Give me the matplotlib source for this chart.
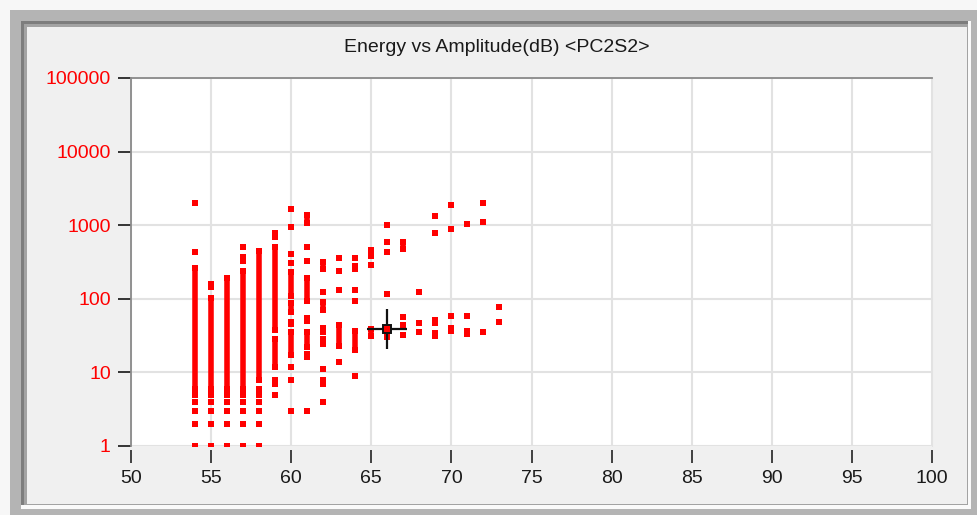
import matplotlib
matplotlib.use("Agg")
import matplotlib.pyplot as plt
from matplotlib.patches import Rectangle

# amplitude (dB) / energy runs: lo == hi means a single hit
run_amp = [54, 54, 54, 54, 54, 54, 54, 54,
           55, 55, 55, 55, 55, 55, 55,
           56, 56, 56, 56, 56, 56,
           57, 57, 57, 57, 57, 57, 57, 57,
           58, 58, 58, 58, 58, 58, 58,
           59, 59, 59, 59, 59,
           60, 60, 60, 60, 60, 60, 60, 60, 60, 60, 60,
           61, 61, 61, 61, 61, 61, 61, 61,
           62, 62, 62, 62, 62, 62, 62, 62,
           63, 63, 63, 63, 63,
           64, 64, 64, 64, 64, 64,
           65, 65, 65,
           66, 66, 66, 66, 66,
           67, 67, 67, 67,
           68, 68, 68,
           69, 69, 69, 69,
           70, 70, 70, 70,
           71, 71, 71,
           72, 72, 72,
           73, 73]
run_lo = [1, 2, 3, 4, 5, 6, 430, 2000,
          1, 2, 3, 4, 5, 6, 145,
          1, 2, 3, 4, 5, 6,
          1, 2, 3, 4, 5, 6, 328, 509,
          1, 2, 3, 4, 5, 6, 8,
          5, 7, 12, 38, 682,
          3, 8, 12, 17, 45, 66, 108, 305, 404, 942, 1660,
          3, 16, 22, 50, 94, 324, 509, 1058,
          4, 7, 11, 24, 35, 70, 124, 258,
          14, 23, 130, 242, 361,
          9, 20, 92, 130, 258, 361,
          31, 286, 379,
          30, 117, 426, 596, 994,
          32, 44, 56, 472,
          35, 47, 123,
          31, 47, 791, 1331,
          37, 59, 896, 1862,
          33, 59, 1048,
          35, 1115, 1983,
          49, 78]
run_hi = [1, 2, 3, 4, 5, 260, 430, 2000,
          1, 2, 3, 4, 5, 102, 160,
          1, 2, 3, 4, 5, 190,
          1, 2, 3, 4, 5, 237, 368, 509,
          1, 2, 3, 4, 5, 6, 444,
          5, 8, 28, 503, 790,
          3, 8, 12, 35, 49, 87, 230, 305, 404, 942, 1660,
          3, 18, 35, 54, 190, 324, 509, 1390,
          4, 8, 11, 28, 40, 91, 124, 321,
          14, 44, 130, 242, 361,
          9, 37, 92, 130, 277, 361,
          39, 286, 454,
          32, 117, 426, 596, 994,
          32, 44, 56, 589,
          35, 47, 123,
          34, 52, 791, 1331,
          40, 59, 896, 1862,
          37, 59, 1048,
          35, 1115, 1983,
          49, 78]

cursor_amp = 66
cursor_energy = 39

x_ticks = [50, 55, 60, 65, 70, 75, 80, 85, 90, 95, 100]
y_ticks = [1, 10, 100, 1000, 10000, 100000]
y_labels = ["1", "10", "100", "1000", "10000", "100000"]

W, H = 977, 515
RED = "#ff0000"

plt.rcParams["font.family"] = ["Liberation Sans", "DejaVu Sans"]

fig = plt.figure(figsize=(W / 100, H / 100), dpi=100)
fig.patch.set_facecolor("#f7f7f7")


def box(x0, y0, x1, y1, color):
    # rectangle given in screen pixels (y down)
    fig.add_artist(Rectangle((x0 / W, 1 - y1 / H), (x1 - x0) / W, (y1 - y0) / H,
                             transform=fig.transFigure, facecolor=color,
                             edgecolor="none", zorder=-10))


# window frame
box(10, 10, W, H, "#b4b4b4")
box(21, 21, 971, 509, "#fafafa")
box(21, 21, 968, 505, "#7d7d7d")
box(24, 24, 968, 505, "#a3a3a3")
box(27, 27, 967, 504, "#f0f0f0")

ax = fig.add_axes([131 / W, 1 - 446 / H, 801 / W, 368 / H])
ax.set_facecolor("white")

ax.vlines(run_amp, run_lo, run_hi, color=RED, lw=4, zorder=3)
ax.plot(run_amp, run_lo, "s", ms=4, mew=0, color=RED, zorder=3)
ax.plot(run_amp, run_hi, "s", ms=4, mew=0, color=RED, zorder=3)

# selection cursor
ax.plot(cursor_amp, cursor_energy, "+", ms=29, mew=1.6, color="#111111", zorder=4)
ax.plot(cursor_amp, cursor_energy, "s", ms=6, mew=1.4, mfc=RED, mec="#111111", zorder=5)

ax.set_yscale("log")
ax.set_xlim(50, 100)
ax.set_ylim(1, 100000)
ax.set_xticks(x_ticks)
ax.set_yticks(y_ticks)
ax.set_yticklabels(y_labels)
ax.minorticks_off()
ax.grid(True, color="#e2e2e2", lw=1.5, zorder=0)
ax.set_axisbelow(True)

ax.spines["left"].set_color("#8a8a8a")
ax.spines["top"].set_color("#8a8a8a")
ax.spines["left"].set_linewidth(1.3)
ax.spines["top"].set_linewidth(1.3)
ax.spines["right"].set_color("#e2e2e2")
ax.spines["bottom"].set_position(("outward", 3))
ax.spines["bottom"].set_color("none")

ax.tick_params(axis="y", direction="out", length=9.5, width=1.4, color="#333333",
               pad=5, labelsize=14, labelcolor=RED)
ax.tick_params(axis="x", direction="out", length=9.5, width=1.3, color="#333333",
               pad=5, labelsize=14, labelcolor="#1a1a1a")

fig.text(497 / W, 1 - 47 / H, "Energy vs Amplitude(dB) <PC2S2>", ha="center",
         va="center", fontsize=14, color="#1a1a1a")

fig.savefig("out.png", dpi=100)
